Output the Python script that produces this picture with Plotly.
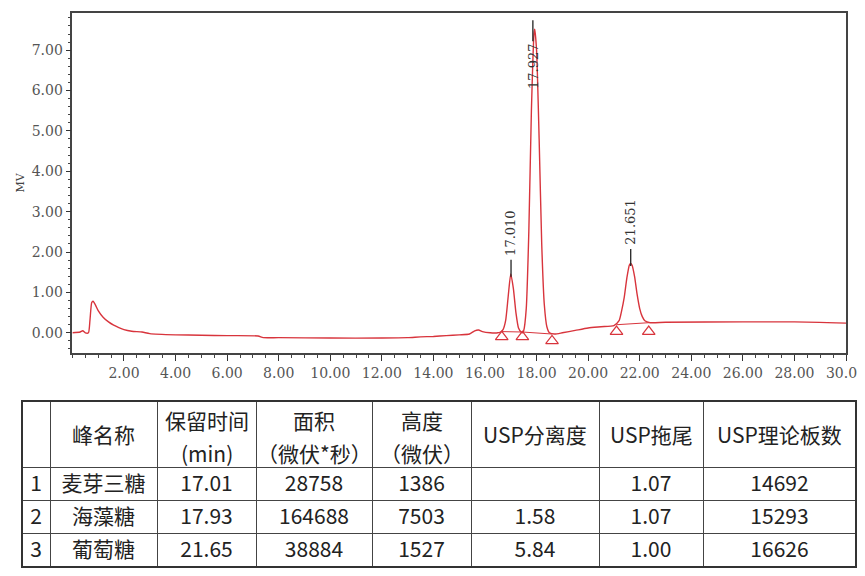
import plotly.graph_objects as go

# ---------------- chromatogram data ----------------
time_min = [0.0, 0.3, 0.4, 0.5, 0.62, 0.68, 0.75, 0.8, 0.9, 1.0, 1.2, 1.4, 1.6, 1.8, 2.0,
            2.3, 2.7, 3.0, 4.0, 5.0, 6.0, 7.2, 7.4, 8.0, 10.0, 12.0, 13.0, 13.5, 14.0,
            14.5, 15.0, 15.4, 15.6, 15.75, 15.9, 16.2, 16.5,
            16.6, 16.7, 16.8, 16.9, 17.0, 17.1, 17.2, 17.3, 17.4, 17.45,
            17.5, 17.6, 17.7, 17.8, 17.9, 17.93, 18.0, 18.1, 18.2, 18.3, 18.4, 18.5,
            18.7, 19.0, 19.5, 20.0, 20.5, 21.0,
            21.2, 21.3, 21.4, 21.5, 21.6, 21.65, 21.7, 21.8, 21.9, 22.0, 22.1, 22.2,
            22.4, 23.0, 26.0, 28.0, 30.0]
signal_mv = [0.0, 0.02, 0.05, 0.0, 0.0, 0.3, 0.75, 0.78, 0.68, 0.55, 0.38, 0.27, 0.19, 0.13, 0.08,
             0.04, 0.02, -0.02, -0.05, -0.06, -0.07, -0.08, -0.12, -0.12, -0.13, -0.13, -0.12, -0.10, -0.09,
             -0.07, -0.05, -0.03, 0.05, 0.07, 0.03, 0.0, 0.0,
             0.02, 0.08, 0.3, 0.9, 1.46, 1.1, 0.5, 0.12, 0.02, 0.0,
             0.05, 0.6, 2.5, 5.5, 7.4, 7.52, 7.0, 4.8, 2.2, 0.7, 0.15, 0.0,
             -0.03, 0.0, 0.06, 0.12, 0.15, 0.18,
             0.3, 0.55, 0.88, 1.35, 1.68, 1.72, 1.68, 1.4, 0.95, 0.6, 0.4, 0.3,
             0.25, 0.26, 0.27, 0.27, 0.24]

# integration baseline segments and peak start/end markers
base_t = [16.65, 17.45, 18.6, None, 21.1, 22.35]
base_v = [0.03, 0.02, -0.03, None, 0.2, 0.25]
mark_t = [16.65, 17.45, 18.6, 21.1, 22.35]
mark_v = [-0.1, -0.1, -0.2, 0.03, 0.03]

# peaks
peak_rt = [17.010, 17.927, 21.651]
peak_top = [1.46, 7.52, 1.73]
peak_label_side = ["above", "below", "above"]

# axis ticks
x_ticks = [2, 4, 6, 8, 10, 12, 14, 16, 18, 20, 22, 24, 26, 28, 30]
y_ticks = [0, 1, 2, 3, 4, 5, 6, 7]

# ---------------- table data ----------------
hdr_top = ["", "峰名称", "保留时间", "面积", "高度", "USP分离度", "USP拖尾", "USP理论板数"]
hdr_bot = ["", "", "(min)", "（微伏*秒）", "（微伏）", "", "", ""]
row_no = ["1", "2", "3"]
names = ["麦芽三糖", "海藻糖", "葡萄糖"]
rt_tbl = ["17.01", "17.93", "21.65"]
area = ["28758", "164688", "38884"]
height = ["1386", "7503", "1527"]
resolution = ["", "1.58", "5.84"]
tailing = ["1.07", "1.07", "1.00"]
plates = ["14692", "15293", "16626"]
col_widths = [28, 107, 99, 116, 99, 128, 104, 153]

# page offset of the plot div (body margin) is 8px
OFF = 8
W, H = 865 - OFF, 576 - OFF
RED = "#d8343c"
serif = "DejaVu Serif"
cjk = "Noto Sans CJK SC"
TFS = 21


def px_x(p):
    return (p - OFF) / W


def px_y(p):
    return 1 - (p - OFF) / H


fig = go.Figure()
fig.add_trace(go.Scatter(x=time_min, y=signal_mv, mode="lines",
                         line=dict(color=RED, width=1.4, shape="spline", smoothing=0.6),
                         showlegend=False, hoverinfo="skip"))
fig.add_trace(go.Scatter(x=base_t, y=base_v, mode="lines", line=dict(color=RED, width=1), showlegend=False,
                         connectgaps=False, hoverinfo="skip"))
fig.add_trace(go.Scatter(x=mark_t, y=mark_v, mode="markers",
                         marker=dict(symbol="triangle-up-open", size=11, color=RED, line=dict(width=1.2)),
                         showlegend=False, hoverinfo="skip"))

annotations = []
shapes = []
for rt, top, side in zip(peak_rt, peak_top, peak_label_side):
    if side == "above":
        shapes.append(dict(type="line", xref="x", yref="y", ysizemode="pixel", yanchor=top,
                           x0=rt, x1=rt, y0=-3, y1=14, line=dict(color="#222", width=1.3)))
        annotations.append(dict(x=rt, y=top, xref="x", yref="y", text=f"{rt:.3f}", textangle=-90,
                                showarrow=False, yanchor="bottom", xanchor="center", yshift=16,
                                font=dict(family=serif, size=13, color="#333")))
    else:
        shapes.append(dict(type="line", xref="x", yref="y", ysizemode="pixel", yanchor=top,
                           x0=rt - 0.07, x1=rt - 0.07, y0=9, y1=-12, line=dict(color="#222", width=1.3)))
        annotations.append(dict(x=rt - 0.07, y=top, xref="x", yref="y", text=f"{rt:.3f}", textangle=-90,
                                showarrow=False, yanchor="top", xanchor="center", yshift=-12,
                                font=dict(family=serif, size=13, color="#333")))

# ---------------- table ----------------
tx0, tx1, ty0, ty1 = 22, 856, 401, 567
hdr_h, row_h = 66, 33
fig.add_trace(go.Table(
    domain=dict(x=[px_x(tx0), px_x(tx1)], y=[max(0, px_y(ty1) - 0.01), px_y(ty0)]),
    columnwidth=col_widths,
    header=dict(values=[""] * len(col_widths), height=hdr_h, fill_color="white",
                line=dict(color="#444", width=1)),
    cells=dict(values=[row_no, names, rt_tbl, area, height, resolution, tailing, plates],
               height=row_h, align="center", fill_color="white",
               line=dict(color="#444", width=1),
               font=dict(family=cjk, size=TFS, color="#222")),
))

tot = sum(col_widths)
scale = (tx1 - tx0) / tot
acc = 0
for w, t, b in zip(col_widths, hdr_top, hdr_bot):
    cx = tx0 + (acc + w / 2) * scale
    acc += w
    if not t:
        continue
    if b:
        lines = [(t, ty0 + 19), (b, ty0 + 52)]
    else:
        lines = [(t, ty0 + hdr_h / 2)]
    for txt, ypx in lines:
        annotations.append(dict(x=px_x(cx), y=px_y(ypx), xref="paper", yref="paper", text=txt,
                                showarrow=False, xanchor="center", yanchor="middle",
                                font=dict(family=cjk, size=TFS, color="#222")))

shapes.append(dict(type="rect", xref="paper", yref="paper", x0=px_x(tx0), x1=px_x(tx1),
                   y0=px_y(ty1), y1=px_y(ty0), line=dict(color="#333", width=2)))

fig.update_layout(
    width=W, height=H, margin=dict(l=0, r=0, t=0, b=0, autoexpand=False),
    paper_bgcolor="white", plot_bgcolor="white",
    annotations=annotations, shapes=shapes,
    xaxis=dict(domain=[px_x(72.4), px_x(846)], range=[0, 30], tickvals=x_ticks, automargin=False,
               ticktext=[f"{v:.2f}" for v in x_ticks], ticks="outside", ticklen=6, tickwidth=1.2,
               tickcolor="#333", showline=True, linecolor="#444", linewidth=1.5, mirror=True,
               showgrid=False, zeroline=False, ticklabeloverflow="allow",
               tickfont=dict(family=serif, size=14, color="#555"),
               minor=dict(dtick=0.5, tick0=0, ticks="outside", ticklen=3, tickcolor="#444")),
    yaxis=dict(domain=[px_y(353), px_y(13)], range=[-0.5, 7.92], tickvals=y_ticks, automargin=False,
               ticktext=[f"{v:.2f}" for v in y_ticks], ticks="outside", ticklen=5, tickwidth=1.2,
               tickcolor="#333", showline=True, linecolor="#444", linewidth=1.5, mirror=True,
               showgrid=False, zeroline=False,
               tickfont=dict(family=serif, size=14, color="#555"),
               minor=dict(dtick=0.2, tick0=0, ticks="outside", ticklen=3, tickcolor="#444"),
               title=dict(text="MV", standoff=5, font=dict(family=serif, size=11, color="#444"))),
)

fig.write_html("out.html")
